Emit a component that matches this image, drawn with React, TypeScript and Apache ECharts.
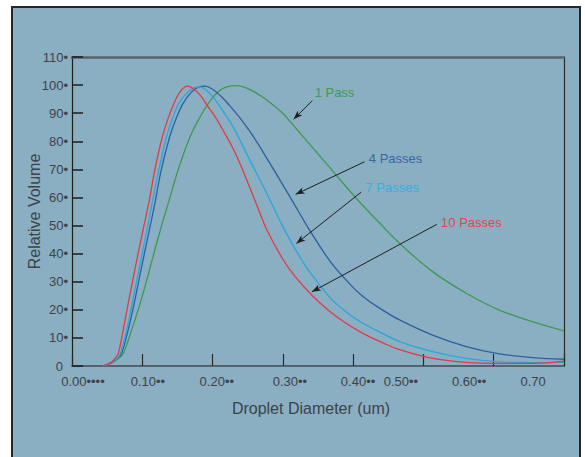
import React, { useEffect, useRef } from "react";
import * as echarts from "echarts";

// ---- data ----
const pass1X = [0.044, 0.055, 0.065, 0.073, 0.085, 0.097, 0.110, 0.123, 0.137, 0.151, 0.168, 0.182, 0.194, 0.206, 0.218, 0.232, 0.245, 0.260, 0.277, 0.300, 0.319, 0.338, 0.366, 0.404, 0.438, 0.466, 0.513, 0.561, 0.608, 0.655, 0.700];
const pass1Y = [0, 0.8, 2.5, 4.5, 13, 22.3, 34, 46, 58, 69.8, 81.6, 88.5, 93.5, 97.2, 99.2, 99.8, 99.3, 97.5, 94.7, 89.9, 84.5, 79, 70.9, 59.8, 50.8, 43.7, 33.6, 25.9, 19.9, 15.8, 12.5];

const pass4X = [0.044, 0.055, 0.065, 0.0705, 0.080, 0.0885, 0.098, 0.108, 0.118, 0.127, 0.139, 0.148, 0.158, 0.170, 0.180, 0.189, 0.200, 0.212, 0.225, 0.240, 0.253, 0.265, 0.277, 0.300, 0.324, 0.338, 0.366, 0.390, 0.414, 0.440, 0.466, 0.513, 0.561, 0.608, 0.655, 0.700];
const pass4Y = [0, 1, 2.8, 4.5, 13, 22.3, 34, 46, 58, 69.8, 81.6, 88, 93.5, 97.5, 99.3, 99.6, 98.5, 96, 92.5, 88, 83.5, 79, 74, 64.5, 54.3, 48.4, 37.7, 30.6, 24.7, 20.2, 16.4, 11, 6.9, 4.3, 3.0, 2.4];

const pass7X = [0.044, 0.055, 0.065, 0.069, 0.078, 0.0857, 0.095, 0.1046, 0.114, 0.1236, 0.1345, 0.143, 0.152, 0.165, 0.176, 0.182, 0.192, 0.203, 0.214, 0.229, 0.253, 0.277, 0.300, 0.324, 0.338, 0.366, 0.390, 0.414, 0.440, 0.466, 0.513, 0.561, 0.608, 0.655, 0.700];
const pass7Y = [0, 1, 3, 4.5, 13, 22.3, 34, 46, 58, 69.8, 81.6, 88, 93.5, 97.5, 99.3, 99.4, 98, 95, 91, 85.2, 73.3, 61.5, 49.6, 38.9, 33.6, 24.7, 19.2, 15.2, 11.8, 8.7, 5.1, 2.7, 1.5, 1.2, 1.3];

const pass10X = [0.044, 0.055, 0.062, 0.066, 0.080, 0.090, 0.099, 0.110, 0.118, 0.129, 0.138, 0.146, 0.155, 0.164, 0.172, 0.182, 0.193, 0.2055, 0.217, 0.229, 0.240, 0.253, 0.265, 0.277, 0.300, 0.317, 0.342, 0.366, 0.390, 0.414, 0.440, 0.466, 0.513, 0.561, 0.608, 0.655, 0.700];
const pass10Y = [0, 1.2, 3, 4.5, 22.3, 35, 46, 59, 70, 82, 89, 94, 98, 99.6, 98.8, 96.5, 92.5, 88, 83, 77.5, 71.5, 63.5, 56, 48.6, 38, 32, 25, 19.6, 15.2, 11.6, 8.5, 5.8, 2.7, 1.3, 0.9, 0.9, 1.7];

const seriesNames = ["1 Pass", "4 Passes", "7 Passes", "10 Passes"];

const xTickLabels = ["0.00••••", "0.10••", "0.20••", "0.30••", "0.40••", "0.50••", "0.60••", "0.70"];
const xTickLabelAt = [0.0156, 0.108, 0.206, 0.31, 0.407, 0.468, 0.565, 0.656];
const yTickValues = [0, 10, 20, 30, 40, 50, 60, 70, 80, 90, 100, 110];

// annotation anchors (data coordinates)
const labelAt = [[0.3452, 97.3], [0.4223, 73.7], [0.4176, 63.5], [0.5251, 51.1]];
const arrowFrom = [[0.3419, 94.5], [0.4162, 72.7], [0.4115, 61.9], [0.5189, 50.4]];
const arrowTo = [[0.3153, 87.8], [0.3182, 61.1], [0.3192, 43.6], [0.3413, 26.4]];

const FONT = "'Liberation Sans', Arial, Helvetica, sans-serif";
const lineColors = ["#3e9a50", "#2d5f9e", "#2ba6dc", "#e43a44"];
const textColors = ["#3f9c52", "#3a67a4", "#37aee0", "#e4444c"];
const TXT = "#3d4349";

const zip = (xs: number[], ys: number[]) => xs.map((x, i) => [x, ys[i]]);

export default function App() {
  const ref = useRef<HTMLDivElement>(null);
  useEffect(() => {
    if (!ref.current) return;
    const chart = echarts.init(ref.current, undefined, { renderer: "svg" });
    const allX = [pass1X, pass4X, pass7X, pass10X];
    const allY = [pass1Y, pass4Y, pass7Y, pass10Y];
    const series: any[] = seriesNames.map((name, i) => ({
      name,
      type: "line",
      xAxisIndex: 0,
      yAxisIndex: 0,
      data: zip(allX[i], allY[i]),
      smooth: 0.4,
      showSymbol: false,
      symbol: "none",
      lineStyle: { color: lineColors[i], width: 1.3 },
      itemStyle: { color: lineColors[i] },
      z: 3,
      markLine: {
        silent: true,
        symbol: ["none", "arrow"],
        symbolSize: [5, 9],
        lineStyle: { color: "#1f1f1f", width: 1, type: "solid" },
        label: { show: false },
        emphasis: { disabled: true },
        data: [[{ coord: arrowFrom[i] }, { coord: arrowTo[i] }]],
      },
      markPoint: {
        silent: true,
        symbol: "circle",
        symbolSize: 0,
        itemStyle: { color: "transparent" },
        label: {
          show: true,
          position: "right",
          distance: 0,
          formatter: name,
          color: textColors[i],
          fontSize: 13,
          fontFamily: FONT,
        },
        data: [{ coord: labelAt[i] }],
      },
    }));

    chart.setOption({
      animation: false,
      grid: { left: 72, right: 21, top: 57, bottom: 91, show: false },
      xAxis: [
        {
          type: "value",
          min: 0,
          max: 0.7,
          interval: 0.1,
          position: "bottom",
          name: "Droplet Diameter (um)",
          nameLocation: "middle",
          nameGap: 34,
          nameMoveOverlap: false,
          nameTextStyle: { color: TXT, fontSize: 16, fontFamily: FONT, padding: [0, 14, 0, 0] },
          axisLine: { show: true, onZero: false, lineStyle: { color: "#56626c", width: 2 } },
          axisTick: { show: true, inside: true, length: 12, lineStyle: { color: "#2a2a2a", width: 1.2 } },
          axisLabel: {
            show: true,
            customValues: xTickLabelAt,
            margin: 9,
            color: TXT,
            fontSize: 13,
            fontFamily: FONT,
            formatter: (v: number) => {
              const idx = xTickLabelAt.findIndex((p) => Math.abs(p - v) < 1e-6);
              return idx >= 0 ? xTickLabels[idx] : "";
            },
          },
          splitLine: { show: false },
        },
        {
          type: "value",
          min: 0,
          max: 0.7,
          position: "top",
          axisLine: { show: true, onZero: false, lineStyle: { color: "#56626c", width: 2.5 } },
          axisTick: { show: false },
          axisLabel: { show: false },
          splitLine: { show: false },
        },
      ],
      yAxis: [
        {
          type: "value",
          min: 0,
          max: 110,
          interval: 10,
          position: "left",
          name: "Relative Volume",
          nameLocation: "middle",
          nameGap: 30,
          nameMoveOverlap: false,
          nameTextStyle: { color: TXT, fontSize: 16, fontFamily: FONT },
          axisLine: { show: true, onZero: false, lineStyle: { color: "#1e1e1e", width: 1.2 } },
          axisTick: { show: true, inside: true, length: 11, lineStyle: { color: "#1e1e1e", width: 1.5 } },
          axisLabel: {
            margin: 4,
            color: TXT,
            fontSize: 13,
            fontFamily: FONT,
            formatter: (v: number) => (yTickValues.indexOf(v) > 0 ? `${v}•` : `{z|${v}}`),
            rich: { z: { color: TXT, fontSize: 13, fontFamily: FONT, padding: [0, 5, 0, 0] } },
          },
          splitLine: { show: false },
        },
        {
          type: "value",
          min: 0,
          max: 110,
          position: "right",
          axisLine: { show: true, onZero: false, lineStyle: { color: "#2a2a2a", width: 1.2 } },
          axisTick: { show: false },
          axisLabel: { show: false },
          splitLine: { show: false },
        },
      ],
      series,
    });
    return () => chart.dispose();
  }, []);

  return (
    <div style={{ position: "fixed", left: 0, top: 0, width: 585, height: 457, background: "#ffffff", overflow: "hidden" }}>
      <div
        style={{
          position: "absolute",
          left: 11,
          top: 6,
          width: 566,
          height: 470,
          background: "#8aaec2",
          border: "2px solid #262626",
        }}
      />
      <div ref={ref} style={{ position: "absolute", left: 0, top: 0, width: 585, height: 457 }} />
    </div>
  );
}
